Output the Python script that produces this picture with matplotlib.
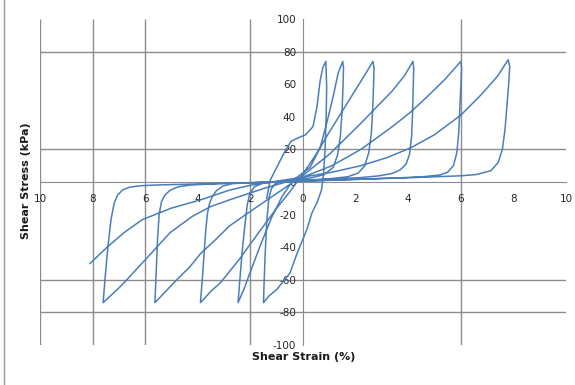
import numpy as np
import matplotlib
matplotlib.use("Agg")
import matplotlib.pyplot as plt
from matplotlib.lines import Line2D

# ---- data (shear strain %, shear stress kPa) ----
# one continuous record, split into branches between the stress peaks
b0_x = [-8.1, -7.45, -6.8, -6.1, -5.0, -3.9, -2.8, -2.0, -1.0, 0.0, 1.1, 2.2, 3.2, 4.1, 5.0, 6.0, 6.8, 7.4, 7.8]
b0_y = [-50, -40, -31, -23, -16, -11, -5, -2, 0.5, 3, 6, 10, 15, 21, 29, 41, 54, 65, 75]

b1_x = [7.8, 7.86, 7.82, 7.75, 7.68, 7.58, 7.42, 7.15, 6.6, 6.0, 5.0, 4.0, 2.0, 0.0, -2.0, -4.0, -5.5, -6.2,
        -6.6, -6.85, -7.05, -7.18, -7.3, -7.42, -7.52, -7.6]
b1_y = [75, 71, 60, 46, 32, 20, 12, 7, 4.6, 3.8, 3.2, 2.6, 1.6, 0.6, -0.4, -1.2, -1.8, -2.3,
        -3.2, -4.8, -8, -13, -23, -40, -58, -74]

b2_x = [-7.6, -7.4, -7.0, -6.7, -5.9, -5.05, -4.2, -3.5, -2.8, -1.5, 0.0, 1.1, 2.2, 3.4, 4.1, 4.7, 5.4, 6.0]
b2_y = [-74, -71, -65, -60, -46, -31, -21, -15, -11, -4, 3, 10, 20, 34, 43, 52, 63, 74]

b3_x = [6.0, 6.03, 6.0, 5.96, 5.92, 5.85, 5.72, 5.5, 5.2, 4.6, 4.0, 3.0, 2.0, 0.0, -2.0, -3.5, -4.3, -4.75,
        -5.05, -5.25, -5.38, -5.47, -5.53, -5.58, -5.63]
b3_y = [74, 70, 58, 44, 30, 18, 10, 6, 4.3, 3.3, 2.8, 2.2, 1.6, 0.5, -0.5, -1.2, -1.9, -3,
        -5, -8, -12, -20, -35, -55, -74]

b4_x = [-5.63, -5.45, -5.1, -4.8, -4.3, -3.9, -3.3, -2.8, -2.0, -1.0, 0.0, 1.0, 2.2, 2.8, 3.4, 3.85, 4.18]
b4_y = [-74, -71, -65, -60, -52, -44, -35, -27, -18, -7, 4, 17, 36, 46, 56, 65, 74]

b5_x = [4.18, 4.21, 4.19, 4.17, 4.13, 4.05, 3.92, 3.7, 3.4, 2.9, 2.2, 1.0, 0.0, -1.0, -2.0, -2.7, -3.05,
        -3.3, -3.45, -3.55, -3.63, -3.7, -3.76, -3.83, -3.9]
b5_y = [74, 70, 58, 44, 28, 17, 11, 7.5, 5.3, 3.8, 2.7, 1.7, 0.9, 0.1, -0.5, -1.0, -2.5,
        -5.5, -9, -13, -19, -30, -44, -60, -74]

b6_x = [-3.9, -3.78, -3.5, -3.15, -2.8, -2.4, -2.0, -1.5, -1.0, -0.5, 0.0, 0.5, 0.9, 1.4, 2.05, 2.4, 2.66]
b6_y = [-74, -72, -67, -62, -55, -47, -38, -27, -16, -6, 5, 17, 28, 41, 58, 67, 74]

b7_x = [2.66, 2.7, 2.68, 2.65, 2.6, 2.5, 2.35, 2.1, 1.7, 1.0, 0.0, -1.0, -1.55, -1.85, -2.02, -2.12,
        -2.22, -2.32, -2.4, -2.47]
b7_y = [74, 70, 58, 45, 30, 18, 10, 5.5, 3.2, 2, 1, 0.2, -0.8, -3, -7, -14, -28, -44, -60, -74]

b8_x = [-2.47, -2.25, -2.0, -1.6, -1.2, -0.8, -0.38, 0.27, 0.65, 0.9, 1.14, 1.34, 1.51]
b8_y = [-74, -66, -55, -38, -22, -9, 1, 9, 21, 36, 52, 67, 74]

b9_x = [1.51, 1.54, 1.52, 1.48, 1.42, 1.32, 1.15, 0.8, 0.3, -0.3, -0.8, -1.05, -1.2, -1.3, -1.38,
        -1.44, -1.48, -1.5]
b9_y = [74, 70, 58, 42, 28, 17, 9, 4.5, 2.5, 1.5, 0.5, -1, -4, -10, -25, -45, -62, -74]

b10_x = [-1.5, -1.3, -1.0, -0.5, -0.23, 0.15, 0.34, 0.55, 0.7, 0.78, 0.84, 0.88, 0.9, 0.87]
b10_y = [-74, -70, -66, -56, -44, -29, -19, -12, -5, 5, 20, 40, 58, 74]

b11_x = [0.87, 0.75, 0.65, 0.53, 0.38, 0.1, -0.2, -0.45, -0.65, -1.0, -1.25, -1.38]
b11_y = [74, 70, 62, 46, 34, 29, 27, 25, 20, 9, 1, -10]

branches_x = [b0_x, b1_x, b2_x, b3_x, b4_x, b5_x, b6_x, b7_x, b8_x, b9_x, b10_x, b11_x]
branches_y = [b0_y, b1_y, b2_y, b3_y, b4_y, b5_y, b6_y, b7_y, b8_y, b9_y, b10_y, b11_y]

x_ticks = [-10, -8, -6, -4, -2, 0, 2, 4, 6, 8, 10]
x_tick_labels = ["10", "8", "6", "4", "2", "0", "2", "4", "6", "8", "10"]
y_ticks = [-100, -80, -60, -40, -20, 0, 20, 40, 60, 80, 100]
# gridlines that survive in the scanned picture
grid_x = [-10, -8, -6, -2, 6]
grid_y = [80, 20, -60, -80]

# join the branches into one record
strain = np.concatenate([np.array(bx[1:] if i else bx, float) for i, bx in enumerate(branches_x)])
stress = np.concatenate([np.array(by[1:] if i else by, float) for i, by in enumerate(branches_y)])

fig = plt.figure(figsize=(5.75, 3.85), dpi=100)
ax = fig.add_axes([40/575, 40/385, 526/575, 326/385])
ax.set_xlim(-10, 10)
ax.set_ylim(-100, 100)

gcol = "#8c8c8c"
ax.vlines(grid_x, -100, 100, color=gcol, lw=1.0, zorder=1)
ax.hlines(grid_y, -10, 10, color=gcol, lw=1.0, zorder=1)

ax.plot(strain, stress, color="#4a7ebb", lw=1.1, solid_joinstyle="round", zorder=3)

for s in ["top", "right"]:
    ax.spines[s].set_visible(False)
ax.spines["left"].set_position(("data", 0))
ax.spines["bottom"].set_position(("data", 0))
ax.spines["left"].set_color(gcol)
ax.spines["bottom"].set_color(gcol)
ax.spines["left"].set_zorder(1)
ax.spines["bottom"].set_zorder(1)

ax.set_xticks(x_ticks)
ax.set_xticklabels(x_tick_labels)
ax.set_yticks(y_ticks)
ax.set_yticklabels([str(v) for v in y_ticks])
ax.tick_params(length=0, labelsize=7.5, labelcolor="#262626")
ax.tick_params(axis="x", pad=9)
ax.tick_params(axis="y", pad=5)
for lab in ax.get_xticklabels() + ax.get_yticklabels():
    lab.set_family("DejaVu Sans")

fig.text(26/575, 1 - 181/385, "Shear Stress (kPa)", rotation=90, ha="center", va="center",
         fontsize=8, fontweight="bold", family="DejaVu Sans", color="#1a1a1a")
fig.text(304/575, 1 - 357/385, "Shear Strain (%)", ha="center", va="center",
         fontsize=8, fontweight="bold", family="DejaVu Sans", color="#1a1a1a")

# left edge of the scanned frame
fig.add_artist(Line2D([3.5/575, 3.5/575], [0.0, 1.0], transform=fig.transFigure, color="#9a9a9a", lw=1.0))

fig.savefig("out.png", dpi=100)
